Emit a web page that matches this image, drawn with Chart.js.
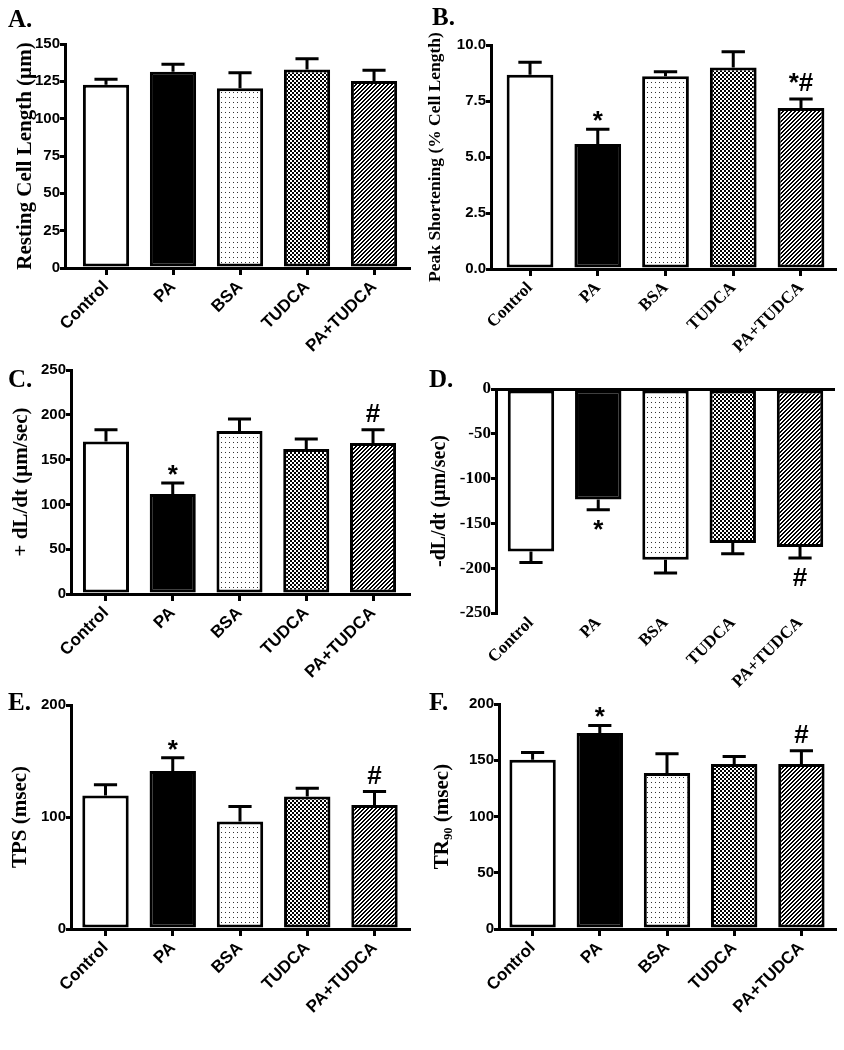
<!DOCTYPE html>
<html>
<head>
<meta charset="utf-8">
<script src="https://cdn.jsdelivr.net/npm/chart.js@4.4.0/dist/chart.umd.min.js"></script>
<style>
  html, body { margin: 0; padding: 0; background: #fff; }
  #fig { position: relative; width: 844px; height: 1050px; overflow: hidden; background: #fff; }
  #fig canvas { position: absolute; }
  .tag { position: absolute; font: bold 25px "Liberation Serif", "Times New Roman", serif; line-height: 25px; color: #000; }
</style>
</head>
<body>
<div id="fig">
  <canvas id="chartA" width="422" height="380" style="left:0;top:0"></canvas>
  <canvas id="chartB" width="422" height="380" style="left:422px;top:0"></canvas>
  <canvas id="chartC" width="422" height="380" style="left:0;top:330px"></canvas>
  <canvas id="chartD" width="422" height="380" style="left:422px;top:330px"></canvas>
  <canvas id="chartE" width="422" height="390" style="left:0;top:660px"></canvas>
  <canvas id="chartF" width="422" height="390" style="left:422px;top:660px"></canvas>
  <div class="tag" style="left:8px;top:6px">A.</div>
  <div class="tag" style="left:432px;top:4px">B.</div>
  <div class="tag" style="left:8px;top:366px">C.</div>
  <div class="tag" style="left:429px;top:366px">D.</div>
  <div class="tag" style="left:8px;top:689px">E.</div>
  <div class="tag" style="left:429px;top:689px">F.</div>
</div>
<script>
// groups (same for every panel)
const categories = ['Control', 'PA', 'BSA', 'TUDCA', 'PA+TUDCA'];

// means and SEM
const restingLength    = [122.7, 131.5, 120.3, 133.0, 125.2];
const restingLengthSem = [3.7, 4.9, 10.5, 7.2, 7.2];

const peakShortening    = [8.67, 5.58, 8.60, 8.99, 7.19];
const peakShorteningSem = [0.56, 0.66, 0.21, 0.71, 0.40];
const peakShorteningSig = ['', '*', '', '', '*#'];

const plusDLdt    = [170.3, 111.6, 181.9, 161.8, 168.5];
const plusDLdtSem = [13.1, 12.3, 13.4, 11.2, 14.9];
const plusDLdtSig = ['', '*', '', '', '#'];

const minusDLdt    = [-181.3, -123.4, -190.6, -172.0, -176.4];
const minusDLdtSem = [12.3, 11.5, 14.8, 11.9, 12.3];
const minusDLdtSig = ['', '*', '', '', '#'];

const tps    = [119.1, 141.1, 95.9, 118.2, 110.8];
const tpsSem = [9.6, 11.9, 13.4, 7.5, 11.9];
const tpsSig = ['', '*', '', '', '#'];

const tr90    = [150.5, 174.2, 138.7, 146.7, 146.7];
const tr90Sem = [6.5, 6.8, 17.1, 6.7, 11.8];
const tr90Sig = ['', '*', '', '', '#'];

const SANS = "'Liberation Sans', Arial, sans-serif";
const SERIF = "'Liberation Serif', 'Times New Roman', serif";

// bar fills: open, solid, dots, checker, hatch
function makePattern(kind) {
  const c = document.createElement('canvas');
  const g = c.getContext('2d');
  if (kind === 'dots') {
    c.width = 4; c.height = 5;
    g.fillStyle = '#fff'; g.fillRect(0, 0, 4, 5);
    g.fillStyle = '#333'; g.fillRect(1, 2, 1, 1);
  } else if (kind === 'checker') {
    c.width = 4; c.height = 4;
    g.fillStyle = '#fff'; g.fillRect(0, 0, 4, 4);
    g.fillStyle = '#000'; g.fillRect(0, 0, 2, 2); g.fillRect(2, 2, 2, 2);
  } else {
    c.width = 4; c.height = 4;
    g.fillStyle = '#fff'; g.fillRect(0, 0, 4, 4);
    g.fillStyle = '#000';
    for (let i = 0; i < 4; i++) {
      g.fillRect(i, 3 - i, 1, 1);
      g.fillRect(i, (4 - i) % 4, 1, 1);
    }
  }
  return g.createPattern(c, 'repeat');
}
const fills = ['#fff', '#000', makePattern('dots'), makePattern('checker'), makePattern('hatch')];

const errorBars = {
  id: 'errorBars',
  afterDatasetsDraw(chart, args, opts) {
    const ctx = chart.ctx, y = chart.scales.y;
    const pts = chart.data.datasets[0].data;
    ctx.save();
    ctx.strokeStyle = '#000';
    ctx.fillStyle = '#000';
    ctx.lineWidth = 3;
    chart.getDatasetMeta(0).data.forEach((bar, i) => {
      const v = pts[i].y, dir = v < 0 ? -1 : 1;
      const yTop = y.getPixelForValue(v + dir * opts.sem[i]);
      const yVal = y.getPixelForValue(v);
      const half = bar.width / 4;
      ctx.beginPath();
      ctx.moveTo(bar.x, yVal); ctx.lineTo(bar.x, yTop);
      ctx.moveTo(bar.x - half, yTop); ctx.lineTo(bar.x + half, yTop);
      ctx.stroke();
      const mark = opts.marks && opts.marks[i];
      if (mark) {
        ctx.font = 'bold 26px ' + SANS;
        ctx.textAlign = 'center';
        ctx.textBaseline = 'alphabetic';
        const m = ctx.measureText(mark);
        const ty = dir > 0 ? yTop - 8 - m.actualBoundingBoxDescent : yTop + 10 + m.actualBoundingBoxAscent;
        ctx.fillText(mark, bar.x, ty);
      }
    });
    ctx.restore();
  }
};

function drawPanel(p) {
  const negative = p.yMax <= 0;
  const tickFamily = p.serifTicks ? SERIF : SANS;
  const labelFamily = p.serifLabels ? SERIF : SANS;
  new Chart(document.getElementById(p.id), {
    type: 'bar',
    data: {
      datasets: [{
        data: p.values.map((v, i) => ({ x: i, y: v })),
        backgroundColor: fills,
        borderColor: '#000',
        borderWidth: 3,
        borderSkipped: false,
        categoryPercentage: 1,
        barPercentage: 0.69
      }]
    },
    options: {
      responsive: false,
      animation: false,
      devicePixelRatio: 1,
      events: [],
      layout: { padding: { top: p.padTop, right: p.padRight, left: 0, bottom: 0 } },
      plugins: {
        legend: { display: false },
        tooltip: { enabled: false },
        errorBars: { sem: p.sem, marks: p.marks }
      },
      scales: {
        x: {
          type: 'linear',
          offset: false,
          bounds: 'data',
          min: p.xMin,
          max: p.xMax,
          afterBuildTicks: s => { s.ticks = categories.map((c, i) => ({ value: i })); },
          afterFit: s => { s.height = p.xHeight; },
          border: { display: !negative, color: '#000', width: 3 },
          grid: { offset: false, drawOnChartArea: false, drawTicks: !negative, color: '#000', lineWidth: 3, tickLength: 7 },
          ticks: {
            autoSkip: false, minRotation: 45, maxRotation: 45, padding: negative ? 0 : 2,
            color: '#000', font: { family: labelFamily, size: 17, weight: 'bold' },
            callback: v => categories[v]
          }
        },
        y: {
          min: p.yMin,
          max: p.yMax,
          afterFit: s => { s.width = p.yWidth; },
          border: { color: '#000', width: 3 },
          grid: {
            drawOnChartArea: negative,
            color: c => (negative && c.tick && c.tick.value === 0) ? '#000' : 'rgba(0,0,0,0)',
            tickColor: '#000', lineWidth: 3, tickWidth: 3, tickLength: 5
          },
          ticks: {
            stepSize: p.step, padding: 0, color: '#000',
            font: { family: tickFamily, size: p.serifTicks ? 17 : 15, weight: 'bold' },
            callback: v => v.toFixed(p.decimals)
          },
          title: {
            display: true, text: p.title, color: '#000',
            font: { family: SERIF, size: p.titleSize, weight: 'bold' },
            padding: { top: p.titlePad, bottom: 0 }
          }
        }
      }
    },
    plugins: [errorBars]
  });
}

[
  { id: 'chartA', values: restingLength, sem: restingLengthSem, marks: null,
    yMin: 0, yMax: 150, step: 25, decimals: 0, title: 'Resting Cell Length (µm)', titleSize: 21, titlePad: 13,
    yWidth: 65, xHeight: 112, padTop: 44, padRight: 13, xMin: -0.612, xMax: 4.522 },
  { id: 'chartB', values: peakShortening, sem: peakShorteningSem, marks: peakShorteningSig,
    yMin: 0, yMax: 10, step: 2.5, decimals: 1, title: 'Peak Shortening (% Cell Length)', titleSize: 17.5, titlePad: 3,
    yWidth: 69, xHeight: 111, padTop: 45, padRight: 9, xMin: -0.576, xMax: 4.502, serifLabels: true },
  { id: 'chartC', values: plusDLdt, sem: plusDLdtSem, marks: plusDLdtSig,
    yMin: 0, yMax: 250, step: 50, decimals: 0, title: '+ dL/dt (µm/sec)', titleSize: 21, titlePad: 9,
    yWidth: 71, xHeight: 116, padTop: 40, padRight: 13, xMin: -0.524, xMax: 4.539 },
  { id: 'chartD', values: minusDLdt, sem: minusDLdtSem, marks: minusDLdtSig,
    yMin: -250, yMax: 0, step: 50, decimals: 0, title: '-dL/dt (µm/sec)', titleSize: 20, titlePad: 6,
    yWidth: 74, xHeight: 97, padTop: 59, padRight: 9, xMin: -0.52, xMax: 4.52, serifTicks: true, serifLabels: true },
  { id: 'chartE', values: tps, sem: tpsSem, marks: tpsSig,
    yMin: 0, yMax: 200, step: 100, decimals: 0, title: 'TPS (msec)', titleSize: 21, titlePad: 8,
    yWidth: 71, xHeight: 121, padTop: 45, padRight: 13, xMin: -0.513, xMax: 4.513 },
  { id: 'chartF', values: tr90, sem: tr90Sem, marks: tr90Sig,
    yMin: 0, yMax: 200, step: 50, decimals: 0, title: 'TR₉₀ (msec)', titleSize: 21, titlePad: 8,
    yWidth: 77, xHeight: 121, padTop: 44, padRight: 9, xMin: -0.5, xMax: 4.5 }
].forEach(drawPanel);
</script>
</body>
</html>
